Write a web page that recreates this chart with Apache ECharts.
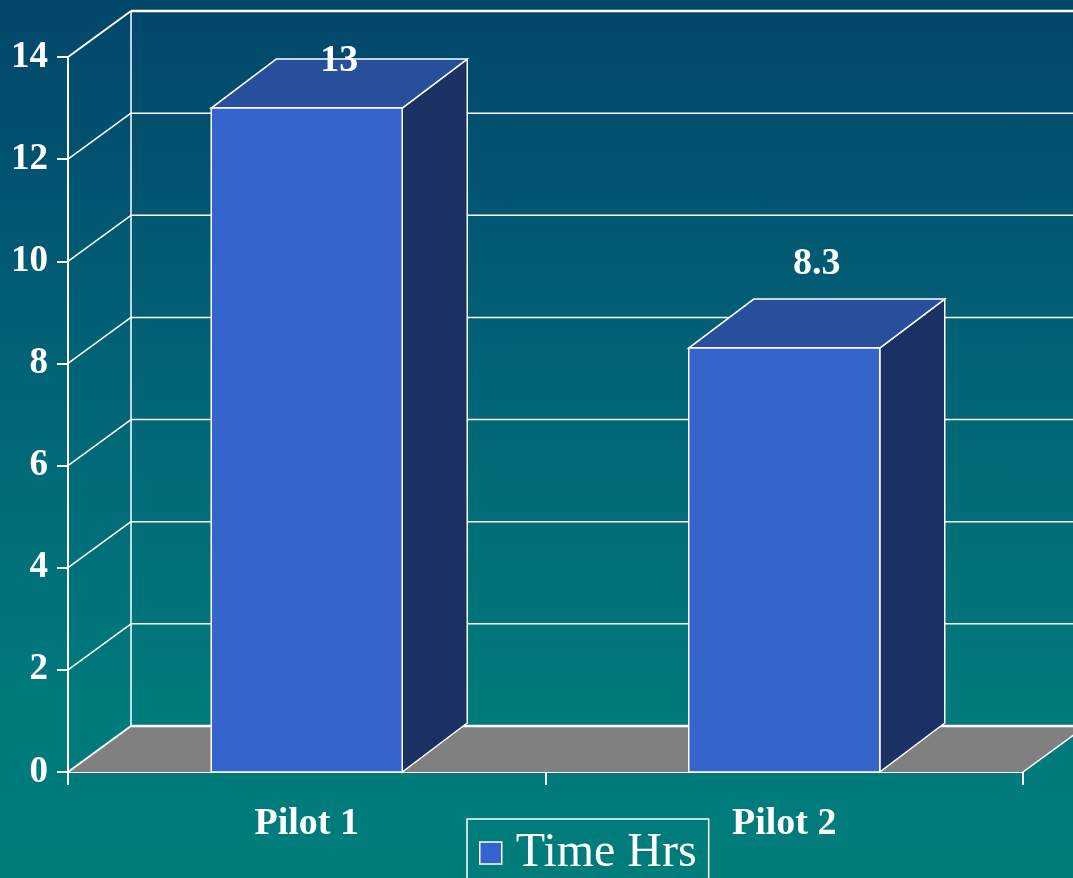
<!DOCTYPE html>
<html>
<head>
<meta charset="utf-8">
<script src="https://cdn.jsdelivr.net/npm/echarts@6/dist/echarts.min.js"></script>
<style>
  html, body { margin: 0; padding: 0; }
  #chart {
    width: 1073px;
    height: 878px;
    background: linear-gradient(to bottom, #02466a 0%, #016577 45%, #007a7b 80%, #007c7b 100%);
  }
</style>
</head>
<body>
<div id="chart"></div>
<script>
const categories = ['Pilot 1', 'Pilot 2']
const timeHrs = [13, 8.3]
const yTicks = [0, 2, 4, 6, 8, 10, 12, 14]
const seriesName = 'Time Hrs'

// depth offsets for the fake 3D look
const WALL_DX = 63
const WALL_DY = -46
const BAR_DX = 65
const BAR_DY = -49

const FONT = '"Liberation Serif", "DejaVu Serif", serif'
const chart = echarts.init(document.getElementById('chart'))

function renderWall(params, api) {
  const cs = params.coordSys
  const left = cs.x
  const right = cs.x + cs.width
  const y0 = api.coord([0, 0])[1]
  const yTop = api.coord([0, yTicks[yTicks.length - 1]])[1]
  const children = []
  const line = { stroke: '#fff', lineWidth: 1.5 }

  // floor
  children.push({
    type: 'polygon',
    shape: { points: [[left, y0], [right, y0], [right + WALL_DX, y0 + WALL_DY], [left + WALL_DX, y0 + WALL_DY]] },
    style: { fill: '#808080', stroke: null }
  })
  children.push({
    type: 'line',
    shape: { x1: right, y1: y0, x2: right + WALL_DX, y2: y0 + WALL_DY },
    style: line
  })

  yTicks.forEach(v => {
    const y = api.coord([0, v])[1]
    const last = v === yTicks[yTicks.length - 1]
    children.push({
      type: 'line',
      shape: { x1: left, y1: y, x2: left + WALL_DX, y2: y + WALL_DY },
      style: { stroke: '#fff', lineWidth: last || v === 0 ? 2 : 1.5 }
    })
    children.push({
      type: 'line',
      shape: { x1: left + WALL_DX, y1: y + WALL_DY, x2: right + WALL_DX + 60, y2: y + WALL_DY },
      style: { stroke: '#fff', lineWidth: last || v === 0 ? 2.5 : 1.5 }
    })
  })

  // back wall left edge
  children.push({
    type: 'line',
    shape: { x1: left + WALL_DX, y1: y0 + WALL_DY, x2: left + WALL_DX, y2: yTop + WALL_DY },
    style: line
  })

  return { type: 'group', children }
}

function renderBar(params, api) {
  const cs = params.coordSys
  const idx = api.value(0)
  const val = api.value(1)
  const base = api.coord([idx, 0])
  const top = api.coord([idx, val])
  const w = api.size([1, 0])[0] * 0.4
  const xl = base[0] - w / 2
  const xr = base[0] + w / 2
  const yt = top[1]
  const yb = base[1]
  const edge = { stroke: '#fff', lineWidth: 1.5 }
  const labelY = Math.max(yt + BAR_DY - 35, cs.y + 4)

  return {
    type: 'group',
    children: [
      {
        type: 'polygon',
        shape: { points: [[xr, yt], [xr + BAR_DX, yt + BAR_DY], [xr + BAR_DX, yb + BAR_DY], [xr, yb]] },
        style: Object.assign({ fill: '#1b3163' }, edge)
      },
      {
        type: 'polygon',
        shape: { points: [[xl, yt], [xr, yt], [xr + BAR_DX, yt + BAR_DY], [xl + BAR_DX, yt + BAR_DY]] },
        style: Object.assign({ fill: '#274f9b' }, edge)
      },
      {
        type: 'rect',
        shape: { x: xl, y: yt, width: w, height: yb - yt },
        style: Object.assign({ fill: '#3565cc' }, edge)
      },
      {
        type: 'text',
        x: base[0] + BAR_DX / 2,
        y: labelY,
        style: {
          text: String(val),
          fill: '#fff',
          font: 'bold 38px ' + FONT,
          align: 'center',
          verticalAlign: 'middle'
        }
      }
    ]
  }
}

chart.setOption({
  backgroundColor: 'transparent',
  animation: false,
  grid: {
    left: 68,
    right: 50,
    top: 57,
    bottom: 106
  },
  legend: {
    left: 467,
    top: 819,
    data: [seriesName],
    icon: 'rect',
    itemWidth: 22,
    itemHeight: 22,
    borderColor: '#fff',
    borderWidth: 1.5,
    borderRadius: 0,
    padding: [10, 12, 30, 12],
    itemStyle: {
      color: '#3565cc',
      borderColor: '#fff',
      borderWidth: 1.5
    },
    textStyle: {
      color: '#fff',
      fontFamily: FONT,
      fontSize: 48,
      padding: [0, 0, 0, 9]
    }
  },
  xAxis: {
    type: 'category',
    data: categories,
    boundaryGap: true,
    axisLine: { lineStyle: { color: '#fff', width: 2 } },
    axisTick: { show: true, length: 13, lineStyle: { color: '#fff', width: 2 } },
    axisLabel: {
      color: '#fff',
      fontFamily: FONT,
      fontWeight: 'bold',
      fontSize: 38,
      margin: 33
    },
    splitLine: { show: false }
  },
  yAxis: {
    type: 'value',
    min: 0,
    max: 14,
    interval: 2,
    axisLine: { show: true, lineStyle: { color: '#fff', width: 2 } },
    axisTick: { show: true, length: 11, lineStyle: { color: '#fff', width: 2 } },
    axisLabel: {
      color: '#fff',
      fontFamily: FONT,
      fontWeight: 'bold',
      fontSize: 37,
      margin: 20
    },
    splitLine: { show: false }
  },
  series: [
    {
      name: 'wall',
      type: 'custom',
      renderItem: renderWall,
      data: [[0, 0]],
      silent: true,
      z: 1
    },
    {
      name: seriesName,
      type: 'custom',
      renderItem: renderBar,
      itemStyle: { color: '#3565cc' },
      data: timeHrs.map((v, i) => [i, v]),
      z: 2
    }
  ]
})
</script>
</body>
</html>
